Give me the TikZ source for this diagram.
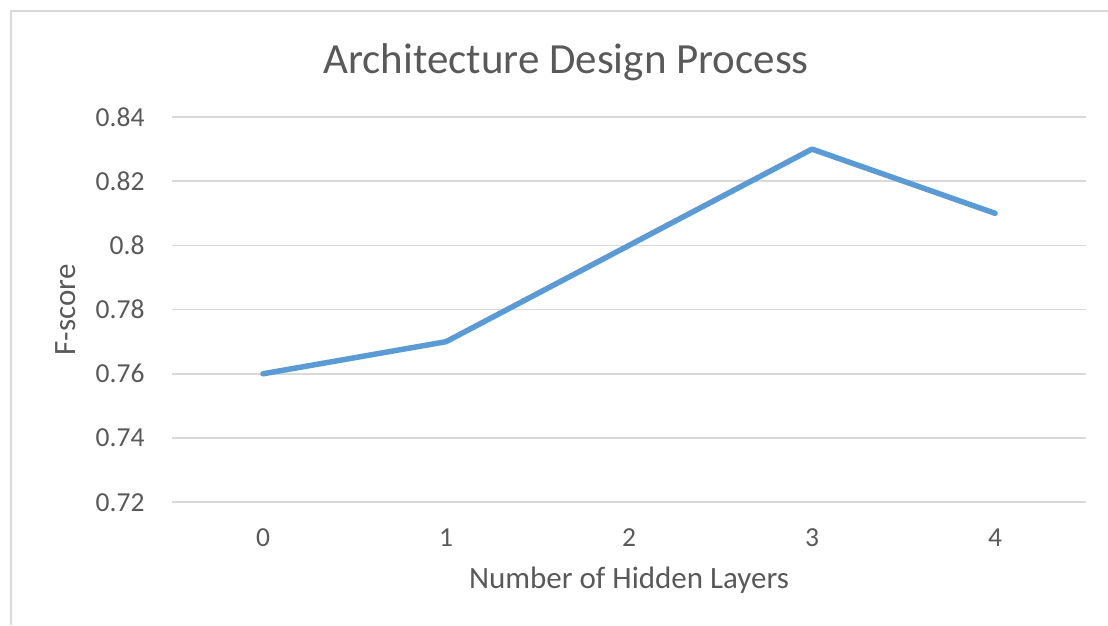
\documentclass[tikz,border=0pt]{standalone}
\usepackage{fontspec}
\setmainfont{Carlito}
\usepackage{tikz}

\definecolor{axisText}{HTML}{595959}
\definecolor{gridGray}{HTML}{D9D9D9}
\definecolor{seriesBlue}{HTML}{5B9BD5}

\begin{document}
\begin{tikzpicture}[x=1pt,y=1pt]
	\tikzstyle{grid}=[draw=gridGray,line width=1.5pt]
	\tikzstyle{ytick}=[anchor=east,text=axisText,font=\fontsize{27.5}{32}\selectfont]
	\tikzstyle{xtick}=[text=axisText,font=\fontsize{27.5}{32}\selectfont]
	\tikzstyle{series}=[draw=seriesBlue,line width=5.5pt,line join=round,line cap=round]
	
	\useasboundingbox (0,0) rectangle (1108,625);
	
	% chart frame
	\draw[gridGray,line width=2pt] (10.5,0) -- (10.5,613.5) -- (1108,613.5);
	
	\node[text=axisText,font=\fontsize{43}{50}\selectfont](title) at (566,563){Architecture Design Process};
	
	% horizontal grid
	\draw[grid] (172,508) -- (1086,508);
	\draw[grid] (172,443.8) -- (1086,443.8);
	\draw[grid] (172,379.6) -- (1086,379.6);
	\draw[grid] (172,315.4) -- (1086,315.4);
	\draw[grid] (172,251.2) -- (1086,251.2);
	\draw[grid] (172,187) -- (1086,187);
	\draw[grid] (172,122.8) -- (1086,122.8);
	
	\node[ytick](y84) at (148,508){0.84};
	\node[ytick](y82) at (148,443.8){0.82};
	\node[ytick](y80) at (148,379.6){0.8};
	\node[ytick](y78) at (148,315.4){0.78};
	\node[ytick](y76) at (148,251.2){0.76};
	\node[ytick](y74) at (148,187){0.74};
	\node[ytick](y72) at (148,122.8){0.72};
	
	\node[xtick](x0) at (263,87){0};
	\node[xtick](x1) at (446,87){1};
	\node[xtick](x2) at (629,87){2};
	\node[xtick](x3) at (812,87){3};
	\node[xtick](x4) at (995,87){4};
	
	\node[text=axisText,font=\fontsize{31}{36}\selectfont](xLabel) at (629,45){Number of Hidden Layers};
	\node[text=axisText,font=\fontsize{31}{36}\selectfont,rotate=90](yLabel) at (66,315){F-score};
	
	% F-score per layer count
	\coordinate(p0) at (263,251.2);
	\coordinate(p1) at (446,283.3);
	\coordinate(p2) at (629,379.6);
	\coordinate(p3) at (812,475.9);
	\coordinate(p4) at (995,411.7);
	
	\draw[series] (p0) -- (p1) -- (p2) -- (p3) -- (p4);
	
\end{tikzpicture}
\end{document}
